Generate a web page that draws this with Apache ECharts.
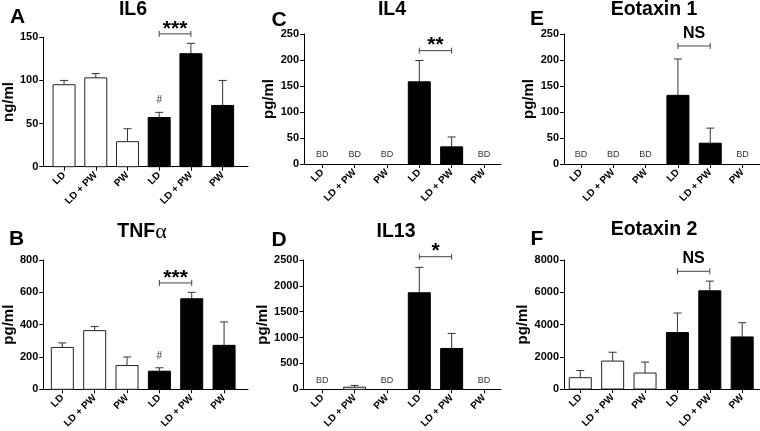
<!DOCTYPE html>
<html>
<head>
<meta charset="utf-8">
<script src="https://cdn.jsdelivr.net/npm/echarts@6/dist/echarts.min.js"></script>
<style>
html,body{margin:0;padding:0;background:#fff;}
#chart{width:760px;height:431px;}
</style>
</head>
<body>
<div id="chart"></div>
<script>
// ---- data ----
const categories = ['LD', 'LD + PW', 'PW', 'LD', 'LD + PW', 'PW'];

const il6Mean  = [95, 103, 29, 57, 131, 71];
const il6Err   = [5, 5, 15, 6, 12, 29];
const tnfMean  = [259, 363, 147, 112, 560, 272];
const tnfErr   = [28, 25, 53, 21, 40, 145];
const il4Mean  = [null, null, null, 158, 33, null];
const il4Err   = [null, null, null, 41, 19, null];
const il13Mean = [null, 40, null, 1867, 790, null];
const il13Err  = [null, 35, null, 490, 290, null];
const eot1Mean = [null, null, null, 132, 40, null];
const eot1Err  = [null, null, null, 70, 29, null];
const eot2Mean = [700, 1730, 990, 3500, 6090, 3230];
const eot2Err  = [450, 550, 680, 1210, 600, 880];

const hashMarks = [null, null, null, '#', null, null];

const yMaxes     = [150, 800, 250, 2500, 250, 8000];
const yIntervals = [50, 200, 50, 500, 50, 2000];

const sigLabels = ['***', '***', '**', '*', 'NS', 'NS'];
const sigLevels = [154, 658, 218, 2564, 227, 7300];
const sigFrom = 3, sigTo = 4;

const titles  = ['IL6', 'TNF', 'IL4', 'IL13', 'Eotaxin 1', 'Eotaxin 2'];
const letters = ['A', 'B', 'C', 'D', 'E', 'F'];
const yNames  = ['ng/ml', 'pg/ml', 'pg/ml', 'pg/ml', 'pg/ml', 'pg/ml'];

// ---- layout (panel order A, B, C, D, E, F) ----
const panels = [
  {mean: il6Mean,  err: il6Err,  hash: hashMarks, left: 39.5, top: 37.3, right: 248, bottom: 166.7, xmin: -0.656, xmax: 5.80, gap: 19, tx: 133, ty: 10, lx: 17.5, ly: 17.5},
  {mean: tnfMean,  err: tnfErr,  hash: hashMarks, left: 42.5, top: 260,  right: 248, bottom: 389.3, xmin: -0.59,  xmax: 5.74, gap: 20, tx: 142, ty: 232, lx: 16.5, ly: 239.5},
  {mean: il4Mean,  err: il4Err,  hash: null, left: 304,  top: 34,   right: 501, bottom: 164,   xmin: -0.566, xmax: 5.526, gap: 24, tx: 392, ty: 10, lx: 279, ly: 20.5},
  {mean: il13Mean, err: il13Err, hash: null, left: 303.5,top: 260,  right: 501, bottom: 389.3, xmin: -0.581, xmax: 5.526, gap: 23.5, tx: 396, ty: 231.5, lx: 279, ly: 240},
  {mean: eot1Mean, err: eot1Err, hash: null, left: 564,  top: 34,   right: 760, bottom: 164,   xmin: -0.526, xmax: 5.54, gap: 26, tx: 654, ty: 9.5, lx: 537, ly: 19.5},
  {mean: eot2Mean, err: eot2Err, hash: null, left: 564,  top: 260,  right: 760, bottom: 389,   xmin: -0.503, xmax: 5.55, gap: 26, tx: 654, ty: 230, lx: 537, ly: 239.5}
];

const FONT = 'Liberation Sans, Arial, Helvetica, sans-serif';
const BAR_W = 22;
const grids = [], xAxes = [], yAxes = [], series = [], graphics = [];

panels.forEach((p, i) => {
  grids.push({left: p.left, top: p.top, width: p.right - p.left, height: p.bottom - p.top, containLabel: false});
  xAxes.push({
    type: 'value', gridIndex: i, min: p.xmin, max: p.xmax,
    splitLine: {show: false},
    axisLine: {show: true, onZero: false, lineStyle: {color: '#000', width: 1}},
    axisTick: {show: true, customValues: [0, 1, 2, 3, 4, 5], length: 4, lineStyle: {color: '#000'}},
    axisLabel: {show: true, customValues: [0, 1, 2, 3, 4, 5], rotate: 45, margin: 7,
      fontSize: 10, fontWeight: 'bold', color: '#000', fontFamily: FONT,
      formatter: v => categories[Math.round(v)]}
  });
  yAxes.push({
    type: 'value', gridIndex: i, min: 0, max: yMaxes[i], interval: yIntervals[i],
    splitLine: {show: false},
    axisLine: {show: true, onZero: false, lineStyle: {color: '#000', width: 1}},
    axisTick: {show: true, length: 4, lineStyle: {color: '#000'}},
    axisLabel: {fontSize: 11, fontWeight: 'bold', color: '#000', fontFamily: FONT, margin: 5,
      formatter: v => String(v)},
    name: yNames[i], nameLocation: 'middle', nameGap: p.gap,
    nameTextStyle: {fontSize: 15, fontWeight: 'bold', color: '#000', fontFamily: FONT}
  });

  // bars + error bars (drawn through the axes' coordinate system)
  const barIdx = [];
  p.mean.forEach((v, k) => { if (v != null) barIdx.push(k); });
  series.push({
    type: 'custom', xAxisIndex: i, yAxisIndex: i, clip: false, z: 2, silent: true,
    encode: {x: 0, y: 1},
    data: barIdx.map(k => [k, p.mean[k]]),
    renderItem: (params, api) => {
      const k = barIdx[params.dataIndex];
      const m = p.mean[k], e = p.err[k];
      const base = api.coord([k, 0]);
      const top = api.coord([k, m]);
      const cap = api.coord([k, m + (e || 0)]);
      const open = k < 3;
      const children = [];
      if (e) {
        const st = {stroke: '#333', lineWidth: 1};
        children.push({type: 'line', shape: {x1: top[0], y1: top[1], x2: cap[0], y2: cap[1]}, style: st});
        children.push({type: 'line', shape: {x1: cap[0] - 4, y1: cap[1], x2: cap[0] + 4, y2: cap[1]}, style: st});
      }
      children.push({type: 'rect',
        shape: {x: base[0] - BAR_W / 2, y: top[1], width: BAR_W, height: base[1] - top[1]},
        style: open ? {fill: '#fff', stroke: '#222', lineWidth: 1} : {fill: '#000', stroke: '#000', lineWidth: 1}});
      return {type: 'group', children: children};
    }
  });

  // BD labels and # marks
  const txtData = [], txtList = [];
  p.mean.forEach((v, k) => {
    if (v == null) { txtData.push([k, 0]); txtList.push({t: 'BD', off: 9, size: 9}); }
    else if (p.hash && p.hash[k]) { txtData.push([k, v + p.err[k]]); txtList.push({t: p.hash[k], off: 12, size: 10}); }
  });
  series.push({
    type: 'custom', xAxisIndex: i, yAxisIndex: i, clip: false, z: 4, silent: true,
    encode: {x: 0, y: 1},
    data: txtData,
    renderItem: (params, api) => {
      const c = api.coord([api.value(0), api.value(1)]);
      const d = txtList[params.dataIndex];
      return {type: 'text', x: c[0], y: c[1] - d.off, style: {text: d.t, fill: '#333',
        font: 'normal ' + d.size + 'px ' + FONT, textAlign: 'center', textVerticalAlign: 'middle'}};
    }
  });

  // significance bracket
  series.push({
    type: 'custom', xAxisIndex: i, yAxisIndex: i, clip: false, z: 4, silent: true,
    encode: {x: 0, y: 1},
    data: [[sigFrom, sigLevels[i]]],
    renderItem: (params, api) => {
      const a = api.coord([sigFrom, sigLevels[i]]);
      const b = api.coord([sigTo, sigLevels[i]]);
      const st = {stroke: '#444', lineWidth: 1};
      const lab = sigLabels[i];
      const isStar = lab.indexOf('*') >= 0;
      return {type: 'group', children: [
        {type: 'line', shape: {x1: a[0], y1: a[1], x2: b[0], y2: b[1]}, style: st},
        {type: 'line', shape: {x1: a[0], y1: a[1] - 3, x2: a[0], y2: a[1] + 3}, style: st},
        {type: 'line', shape: {x1: b[0], y1: b[1] - 3, x2: b[0], y2: b[1] + 3}, style: st},
        {type: 'text', x: (a[0] + b[0]) / 2, y: a[1] - (isStar ? 5 : 12.5),
          style: {text: lab, fill: '#000', font: 'bold ' + (isStar ? 21 : 16) + 'px ' + FONT,
            textAlign: 'center', textVerticalAlign: 'middle'}}
      ]};
    }
  });

  // title & panel letter
  if (titles[i] === 'TNF') {
    graphics.push({type: 'text', x: p.tx, y: p.ty, style: {text: '{a|TNF}{b|α}', textAlign: 'center', textVerticalAlign: 'middle',
      rich: {a: {fontSize: 19.5, fontWeight: 'bold', fontFamily: FONT, fill: '#000', color: '#000'},
             b: {fontSize: 22, fontWeight: 'normal', fontFamily: 'Liberation Serif, Times New Roman, serif', fill: '#000', color: '#000'}}}});
  } else {
    graphics.push({type: 'text', x: p.tx, y: p.ty, style: {text: titles[i], fill: '#000',
      font: 'bold 19.5px ' + FONT, textAlign: 'center', textVerticalAlign: 'middle'}});
  }
  graphics.push({type: 'text', x: p.lx, y: p.ly, style: {text: letters[i], fill: '#000',
    font: 'bold 21px ' + FONT, textAlign: 'center', textVerticalAlign: 'middle'}});
});

const chart = echarts.init(document.getElementById('chart'), null, {renderer: 'canvas'});
chart.setOption({
  animation: false,
  backgroundColor: '#fff',
  grid: grids, xAxis: xAxes, yAxis: yAxes, series: series, graphic: graphics
});
</script>
</body>
</html>
